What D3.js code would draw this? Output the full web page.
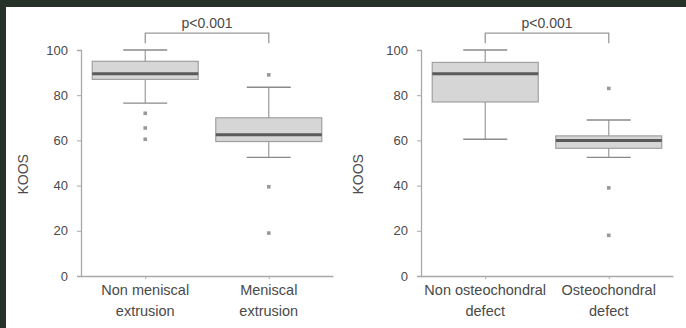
<!DOCTYPE html>
<html>
<head>
<meta charset="utf-8">
<script src="https://cdn.jsdelivr.net/npm/d3@7"></script>
<style>
  html, body { margin: 0; padding: 0; background: #263127; }
  svg { display: block; }
  text { font-family: "Liberation Sans", Arial, sans-serif; fill: #4a4a4a; }
</style>
</head>
<body>
<svg id="chart" width="686" height="328"></svg>
<script>

// values (KOOS score)
const yTicks = [0, 20, 40, 60, 80, 100];

const catsLeft = ["Non meniscal|extrusion", "Meniscal|extrusion"];
const lowLeft = [76.5, 52.5];
const q1Left = [87, 59.5];
const medLeft = [89.5, 62.5];
const q3Left = [95, 70];
const highLeft = [100, 83.5];
const outLeft = [[72, 65.5, 60.5], [89, 39.5, 19]];

const catsRight = ["Non osteochondral|defect", "Osteochondral|defect"];
const lowRight = [60.5, 52.5];
const q1Right = [77, 56.5];
const medRight = [89.5, 60];
const q3Right = [94.5, 62];
const highRight = [100, 69];
const outRight = [[], [83, 39, 18]];

const pLabels = ["p<0.001", "p<0.001"];

const svg = d3.select('#chart');

// frame: dark band top and left, white sheet
svg.append('rect').attr('x', 0).attr('y', 0).attr('width', 686).attr('height', 328).attr('fill', '#263127');
svg.append('rect').attr('x', 6).attr('y', 7).attr('width', 680).attr('height', 321).attr('fill', '#ffffff');

function drawPanel(x0, cats, low, q1, med, q3, high, outs, pLabel, titleOff) {
	const g = svg.append('g');

	const y = d3.scaleLinear().domain([0, 100]).range([276, 50]);
	const x = d3.scalePoint().domain(cats).range([x0, x0 + 252]).padding(0.52);

	const boxW = 106, capW = 44;

	//y axis
	const yAxis = g.append('g')
		.attr('transform', 'translate(' + x0 + ',0)')
		.call(d3.axisLeft(y).tickValues(yTicks).tickSize(4).tickPadding(9));
	yAxis.select('.domain').attr('stroke', '#a8a8a8').attr('stroke-width', 1.3);
	yAxis.selectAll('.tick line').attr('stroke', '#a8a8a8');
	yAxis.selectAll('.tick text').style('font-size', '13px').attr('fill', '#555');

	//x axis
	const xAxis = g.append('g')
		.attr('transform', 'translate(0,' + y(0) + ')')
		.call(d3.axisBottom(x).tickSize(3).tickSizeOuter(0).tickFormat(''));
	xAxis.select('.domain').attr('stroke', '#a8a8a8').attr('stroke-width', 1.3);
	xAxis.selectAll('.tick line').attr('stroke', '#a8a8a8');

	//category labels, two lines each
	cats.forEach(function(c) {
		const lines = c.split('|');
		const t = g.append('text')
			.attr('x', x(c))
			.attr('y', 295)
			.attr('text-anchor', 'middle')
			.style('font-size', '14.5px');
		lines.forEach(function(l, i) {
			t.append('tspan').attr('x', x(c)).attr('dy', i === 0 ? 0 : 21).text(l);
		});
	});

	//y title
	g.append('text')
		.attr('transform', 'translate(' + (x0 - titleOff) + ',' + y(45) + ') rotate(-90)')
		.attr('text-anchor', 'middle')
		.style('font-size', '14px')
		.text('KOOS');

	//boxes
	cats.forEach(function(c, i) {
		const cx = x(c);
		// whisker
		g.append('line')
			.attr('x1', cx).attr('x2', cx)
			.attr('y1', y(low[i])).attr('y2', y(high[i]))
			.attr('stroke', '#9a9a9a').attr('stroke-width', 1.2);
		[low[i], high[i]].forEach(function(v) {
			g.append('line')
				.attr('x1', cx - capW / 2).attr('x2', cx + capW / 2)
				.attr('y1', y(v)).attr('y2', y(v))
				.attr('stroke', '#8a8a8a').attr('stroke-width', 1.4);
		});
		g.append('rect')
			.attr('x', cx - boxW / 2)
			.attr('y', y(q3[i]))
			.attr('width', boxW)
			.attr('height', y(q1[i]) - y(q3[i]))
			.attr('fill', '#d6d6d6')
			.attr('stroke', '#a0a0a0')
			.attr('stroke-width', 1.2);
		g.append('line')
			.attr('x1', cx - boxW / 2).attr('x2', cx + boxW / 2)
			.attr('y1', y(med[i])).attr('y2', y(med[i]))
			.attr('stroke', '#5a5a5a').attr('stroke-width', 3);
		g.selectAll(null)
			.data(outs[i])
			.enter()
			.append('rect')
			.attr('x', cx - 1.8)
			.attr('y', function(d) { return y(d) - 1.8; })
			.attr('width', 3.6)
			.attr('height', 3.6)
			.attr('fill', '#999');
	});

	//significance bracket
	const bx1 = x(cats[0]), bx2 = x(cats[1]);
	const by = y(107.5), legEnd = y(103);
	g.append('path')
		.attr('d', 'M' + bx1 + ',' + legEnd + 'V' + by + 'H' + bx2 + 'V' + legEnd)
		.attr('fill', 'none')
		.attr('stroke', '#9a9a9a')
		.attr('stroke-width', 1.3);
	g.append('text')
		.attr('x', (bx1 + bx2) / 2)
		.attr('y', by - 5)
		.attr('text-anchor', 'middle')
		.style('font-size', '14px')
		.text(pLabel);
}

drawPanel(81, catsLeft, lowLeft, q1Left, medLeft, q3Left, highLeft, outLeft, pLabels[0], 53);
drawPanel(421, catsRight, lowRight, q1Right, medRight, q3Right, highRight, outRight, pLabels[1], 58);

</script>
</body>
</html>
